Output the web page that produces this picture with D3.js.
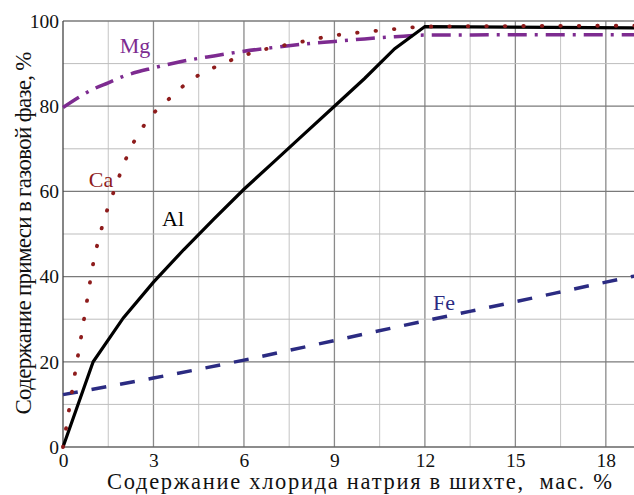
<!DOCTYPE html>
<html>
<head>
<meta charset="utf-8">
<script src="https://cdn.jsdelivr.net/npm/d3@7"></script>
<style>
  body { margin: 0; background: #fff; }
  text { font-family: "Liberation Serif", "DejaVu Serif", serif; }
</style>
</head>
<body>
<svg id="chart" width="634" height="495"></svg>
<script>
// values: [NaCl %, impurity %]
var alData = [[0, 0], [1, 20], [2, 30.3], [3, 38.7], [4, 46.3], [5, 53.5], [6, 60.5],
  [7, 67], [8, 73.5], [9, 80], [10, 86.5], [11, 93.5], [12, 98.7], [19, 98.4]];
var caData = [[0, 0], [0.2, 8.7], [0.4, 17.4], [0.6, 25.8], [0.8, 34.5], [1, 43],
  [1.3, 51.8], [1.7, 60.3], [2.17, 69], [2.9, 77.5], [3.5, 81.6], [4.1, 85.4],
  [5.3, 90], [6.5, 93], [7.7, 94.8], [8.9, 96.5], [10.1, 97.5], [11.3, 98.3], [12, 98.7], [19, 98.9]];
var mgData = [[0, 79.7], [0.5, 82], [1, 84], [1.5, 85.5], [2, 87], [3, 89], [4, 90.6],
  [5, 91.8], [6, 92.9], [7, 93.8], [8, 94.6], [9, 95.2], [10, 95.8], [11, 96.3], [12, 96.7], [19, 96.8]];
var feData = [[0, 12.3], [3, 16.2], [6, 20.4], [9, 25], [12, 29.6], [15, 34.1], [18, 38.7], [19, 40.2]];

var xTicks = [0, 3, 6, 9, 12, 15, 18];
var yTicks = [0, 20, 40, 60, 80, 100];
var xLabel = "Содержание хлорида натрия в шихте,  мас. %";
var yLabel = "Содержание примеси в газовой фазе, %";

var margin = {left: 63, top: 21, bottom: 447, right: 636};
var svg = d3.select("#chart");

var x = d3.scaleLinear().domain([0, 19]).range([margin.left, margin.right]);
var y = d3.scaleLinear().domain([0, 100]).range([margin.bottom, margin.top]);

// grid: minor every 1.5 / 10, major every 3 / 20
var grid = svg.append("g").attr("id", "grid");
d3.range(1.5, 19.01, 1.5).forEach(function(v) {
  var major = Math.abs(v % 3) < 1e-6;
  grid.append("line")
    .attr("x1", x(v)).attr("x2", x(v))
    .attr("y1", y(0)).attr("y2", y(100))
    .attr("stroke", major ? "#8a8a8a" : "#c4c4c4")
    .attr("stroke-width", major ? 1.3 : 1);
});
d3.range(10, 100.01, 10).forEach(function(v) {
  var major = v % 20 === 0;
  grid.append("line")
    .attr("x1", x(0)).attr("x2", x(19))
    .attr("y1", y(v)).attr("y2", y(v))
    .attr("stroke", major ? "#7a7a7a" : "#bdbdbd")
    .attr("stroke-width", major ? 1.3 : 1);
});

// frame
svg.append("line").attr("x1", x(0)).attr("x2", x(0)).attr("y1", y(0)).attr("y2", y(100))
  .attr("stroke", "#444").attr("stroke-width", 1.3);
svg.append("line").attr("x1", x(0)).attr("x2", x(19)).attr("y1", y(0)).attr("y2", y(0))
  .attr("stroke", "#666").attr("stroke-width", 1.3);

// axes (labels only, grid draws the lines)
var xAxis = svg.append("g").attr("transform", "translate(0," + y(0) + ")")
  .call(d3.axisBottom(x).tickValues(xTicks).tickSize(0).tickPadding(6));
var yAxis = svg.append("g").attr("transform", "translate(" + x(0) + ",0)")
  .call(d3.axisLeft(y).tickValues(yTicks).tickSize(0).tickPadding(4));
[xAxis, yAxis].forEach(function(a) {
  a.select(".domain").remove();
  a.selectAll("text").attr("font-family", "Liberation Serif, serif")
    .attr("font-size", 19.5).attr("fill", "#111");
});
xAxis.selectAll("text").attr("dy", "0.72em");

svg.append("text").attr("x", 107).attr("y", 489)
  .attr("font-size", 22.5).attr("fill", "#111")
  .attr("textLength", 505).attr("lengthAdjust", "spacing")
  .style("white-space", "pre").text(xLabel);
svg.append("text").attr("transform", "translate(31,233) rotate(-90)")
  .attr("text-anchor", "middle").attr("font-size", 23).attr("fill", "#111")
  .attr("textLength", 363).attr("lengthAdjust", "spacing").text(yLabel);

var line = d3.line().x(function(d) { return x(d[0]); }).y(function(d) { return y(d[1]); });
var smooth = d3.line().curve(d3.curveMonotoneX)
  .x(function(d) { return x(d[0]); }).y(function(d) { return y(d[1]); });

var plot = svg.append("g");
plot.append("path").datum(feData).attr("d", smooth).attr("fill", "none")
  .attr("stroke", "#2b2b82").attr("stroke-width", 3.5).attr("stroke-dasharray", "15 14");
plot.append("path").datum(mgData).attr("d", smooth).attr("fill", "none")
  .attr("stroke", "#7d2b90").attr("stroke-width", 3.5).attr("stroke-dasharray", "19 8 3 8");
plot.append("path").datum(alData).attr("d", line).attr("fill", "none")
  .attr("stroke", "#000").attr("stroke-width", 3.2);
plot.append("path").datum(caData).attr("d", smooth).attr("fill", "none")
  .attr("stroke", "#8e1c1c").attr("stroke-width", 3.8).attr("stroke-linecap", "round")
  .attr("stroke-dasharray", "0.5 18");

// series labels
var labels = [["Mg", 135, 53, "#7d2b90"], ["Ca", 101, 187, "#8e1c1c"], ["Al", 173, 226, "#000"], ["Fe", 444, 310, "#2b2b82"]];
labels.forEach(function(l) {
  svg.append("text").attr("x", l[1]).attr("y", l[2]).attr("text-anchor", "middle")
    .attr("font-size", 22).attr("fill", l[3]).text(l[0]);
});
</script>
</body>
</html>
